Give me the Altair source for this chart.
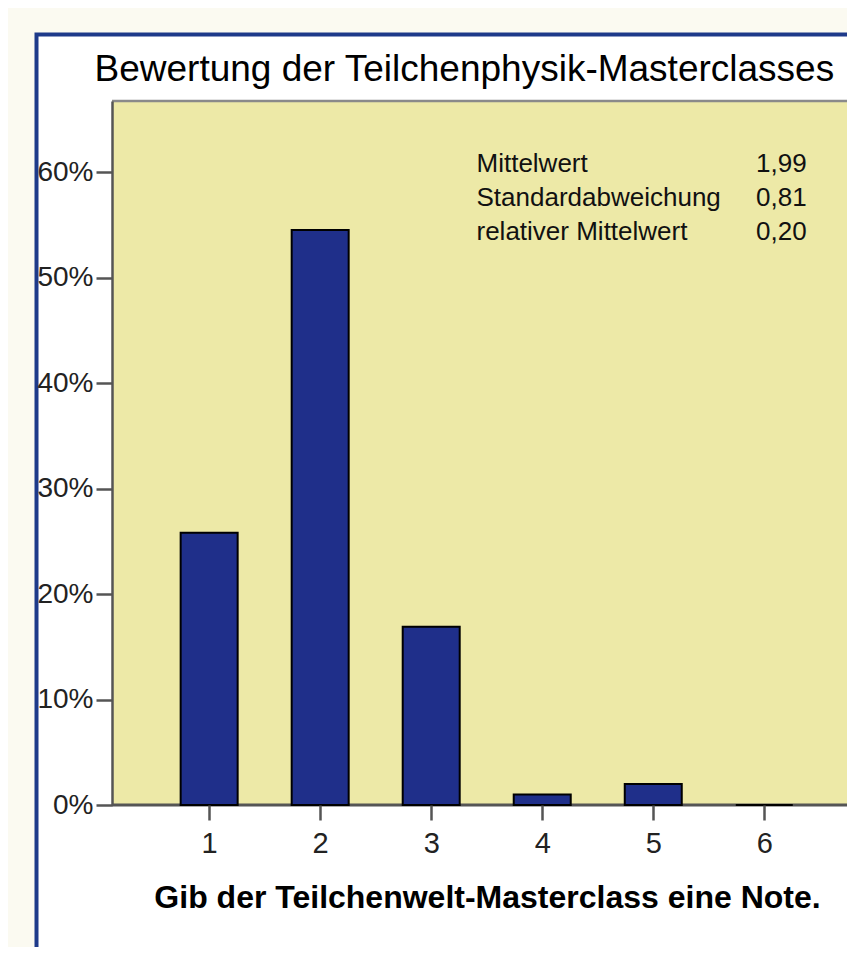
import altair as alt
import pandas as pd

# ---- data ----
grades = [1, 2, 3, 4, 5, 6]
shares = [0.258, 0.545, 0.169, 0.010, 0.020, 0.0]
y_ticks = [0.0, 0.1, 0.2, 0.3, 0.4, 0.5, 0.6]
stat_labels = ["Mittelwert", "Standardabweichung", "relativer Mittelwert"]
stat_values = ["1,99", "0,81", "0,20"]
title_text = "Bewertung der Teilchenphysik-Masterclasses"
x_title = "Gib der Teilchenwelt-Masterclass eine Note."

FONT = "Liberation Sans"
W, H = 735, 704

bars_df = pd.DataFrame({"note": grades, "anteil": shares})
one = pd.DataFrame({"k": [0]})
stats_df = pd.DataFrame({"lab": ["\n".join(stat_labels)], "val": ["\n".join(stat_values)]})
title_df = pd.DataFrame({"t": [title_text]})

xscale = alt.Scale(domain=[0.17, 6.70], nice=False, zero=False)
yscale = alt.Scale(domain=[0, 0.6673], nice=False)

frame = alt.Chart(one).mark_rect(fill="white", stroke="#1E3A8A", strokeWidth=4).encode(
    x=alt.value(-75.5), x2=alt.value(1200), y=alt.value(-66.5), y2=alt.value(1200)
)
plotbg = alt.Chart(one).mark_rect(fill="#EDE9A7").encode(
    x=alt.value(0), x2=alt.value(W), y=alt.value(0), y2=alt.value(H)
)
topline = alt.Chart(one).mark_rule(color="#8A8A8A", strokeWidth=2.5).encode(
    x=alt.value(0), x2=alt.value(W), y=alt.value(0)
)
baseline = alt.Chart(one).mark_rule(color="#555555", strokeWidth=3).encode(
    x=alt.value(0), x2=alt.value(W), y=alt.value(H)
)

bars = alt.Chart(bars_df).mark_bar(
    size=57, color="#1F2F8A", stroke="black", strokeWidth=2
).encode(
    x=alt.X("note:Q", scale=xscale,
            axis=alt.Axis(values=grades, format="d", title=x_title,
                          labelFont=FONT, labelFontSize=29, labelColor="#222",
                          labelPadding=9, tickSize=15, tickWidth=2.5, tickColor="#555",
                          domain=False, grid=False,
                          titleFont=FONT, titleFontSize=32, titleFontWeight="bold",
                          titleColor="black", titleX=375, titleY=102,
                          titleBaseline="alphabetic", titleAlign="center", zindex=2)),
    y=alt.Y("anteil:Q", scale=yscale,
            axis=alt.Axis(values=y_ticks, format=".0%", title=None,
                          labelFont=FONT, labelFontSize=28, labelColor="#222",
                          labelPadding=3, tickSize=16, tickWidth=2.5, tickColor="#555",
                          domainColor="#555", domainWidth=2.5, grid=False, zindex=2)),
)

stats_lab = alt.Chart(stats_df).mark_text(
    align="left", baseline="alphabetic", lineBreak="\n", lineHeight=34,
    font=FONT, fontSize=26, color="#111"
).encode(x=alt.value(364.5), y=alt.value(71), text="lab:N")
stats_val = alt.Chart(stats_df).mark_text(
    align="left", baseline="alphabetic", lineBreak="\n", lineHeight=34,
    font=FONT, fontSize=26, color="#111"
).encode(x=alt.value(644), y=alt.value(71), text="val:N")

title = alt.Chart(title_df).mark_text(
    align="left", baseline="alphabetic", font=FONT, fontSize=37, color="black"
).encode(x=alt.value(-17.5), y=alt.value(-19.8), text="t:N")

chart = alt.layer(frame, plotbg, topline, baseline, bars, stats_lab, stats_val, title).properties(
    width=W, height=H,
    autosize=alt.AutoSizeParams(type="none"),
    padding={"left": 104, "top": 93, "right": 0, "bottom": 142},
    background="#FBFAF1",
).configure_view(stroke=None)

chart.save("out.html", embed_options={"renderer": "svg", "actions": False})
